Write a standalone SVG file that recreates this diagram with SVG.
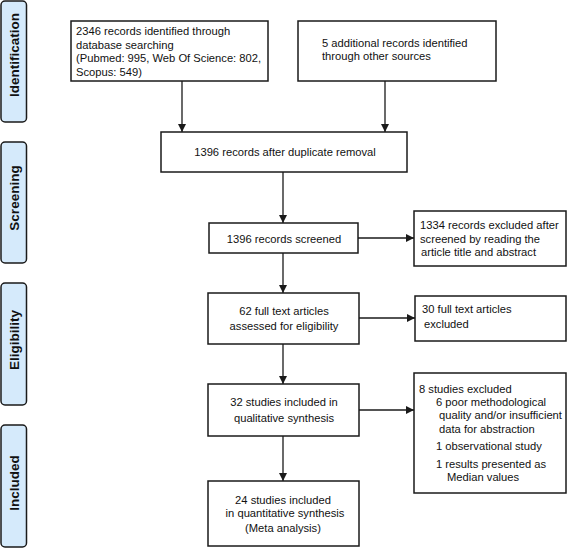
<svg xmlns="http://www.w3.org/2000/svg" width="568" height="548" viewBox="0 0 568 548">
<defs>
<style>
.box{fill:#fff;stroke:#1a1a1a;stroke-width:1.5}
.side{fill:#d5eafb;stroke:#1a1a1a;stroke-width:1.5}
.t{font-family:"Liberation Sans",Arial,sans-serif;font-size:11.2px;fill:#111}
.c{text-anchor:middle}
.s{font-family:"Liberation Sans",Arial,sans-serif;font-size:13.5px;font-weight:bold;fill:#111;text-anchor:middle}
.ln{stroke:#1a1a1a;stroke-width:1.3;fill:none;marker-end:url(#ah)}
</style>
<marker id="ah" viewBox="0 0 10 10" refX="10" refY="5" markerWidth="8" markerHeight="8" markerUnits="userSpaceOnUse" orient="auto">
<path d="M0,0L10,5L0,10z" fill="#1a1a1a"/>
</marker>
</defs>
<rect width="568" height="548" fill="#fff"/>
<g id="phase-identification">
<rect class="side" x="1" y="1" width="25.5" height="121" rx="4"/>
<text class="s" transform="translate(19,55) rotate(-90)">Identification</text>
</g>
<g id="phase-screening">
<rect class="side" x="1" y="142" width="25.5" height="121" rx="4"/>
<text class="s" transform="translate(19,198) rotate(-90)">Screening</text>
</g>
<g id="phase-eligibility">
<rect class="side" x="1" y="283" width="25.5" height="122" rx="4"/>
<text class="s" transform="translate(19,340) rotate(-90)">Eligibility</text>
</g>
<g id="phase-included">
<rect class="side" x="1" y="425" width="25.5" height="122" rx="4"/>
<text class="s" transform="translate(19,483) rotate(-90)">Included</text>
</g>
<g id="connectors">
<line class="ln" x1="182" y1="81" x2="182" y2="132"/>
<line class="ln" x1="385" y1="81" x2="385" y2="132"/>
<line class="ln" x1="283" y1="172" x2="283" y2="223"/>
<line class="ln" x1="358" y1="238" x2="414" y2="238"/>
<line class="ln" x1="283" y1="253" x2="283" y2="293"/>
<line class="ln" x1="359" y1="318" x2="415" y2="318"/>
<line class="ln" x1="283" y1="344" x2="283" y2="384"/>
<line class="ln" x1="359" y1="410" x2="414" y2="410"/>
<line class="ln" x1="283" y1="436" x2="283" y2="481"/>
</g>
<g id="db-records">
<rect class="box" x="71" y="21" width="197" height="60"/>
<text class="t" x="76" y="35">2346 records identified through</text>
<text class="t" x="76" y="48.5">database searching</text>
<text class="t" x="76" y="62">(Pubmed: 995, Web Of Science: 802,</text>
<text class="t" x="76" y="75.5">Scopus: 549)</text>
</g>
<g id="other-records">
<rect class="box" x="298" y="21" width="198" height="60"/>
<text class="t" x="322" y="46.5">5 additional records identified</text>
<text class="t" x="322" y="60">through other sources</text>
</g>
<g id="dedup">
<rect class="box" x="161" y="132" width="246" height="40"/>
<text class="t c" x="285" y="156">1396 records after duplicate removal</text>
</g>
<g id="screened">
<rect class="box" x="209" y="223" width="149" height="30"/>
<text class="t c" x="284" y="242.5">1396 records screened</text>
</g>
<g id="excluded-screen">
<rect class="box" x="414" y="211" width="152" height="55"/>
<text class="t" x="420" y="229">1334 records excluded after</text>
<text class="t" x="420" y="243">screened by reading the</text>
<text class="t" x="421" y="256">article title and abstract</text>
</g>
<g id="fulltext">
<rect class="box" x="208" y="293" width="151" height="51"/>
<text class="t c" x="284" y="315">62 full text articles</text>
<text class="t c" x="284" y="330">assessed for eligibility</text>
</g>
<g id="excluded-fulltext">
<rect class="box" x="415" y="296" width="151" height="45"/>
<text class="t" x="422" y="313">30 full text articles</text>
<text class="t" x="424" y="328">excluded</text>
</g>
<g id="qualitative">
<rect class="box" x="208" y="384" width="151" height="52"/>
<text class="t c" x="284" y="406">32 studies included in</text>
<text class="t c" x="284" y="422">qualitative synthesis</text>
</g>
<g id="excluded-studies">
<rect class="box" x="414" y="373" width="152" height="120"/>
<text class="t" x="419" y="392.5">8 studies excluded</text>
<text class="t" x="436" y="406">6 poor methodological</text>
<text class="t" x="439" y="419">quality and/or insufficient</text>
<text class="t" x="439" y="432.5">data for abstraction</text>
<text class="t" x="436" y="450">1 observational study</text>
<text class="t" x="436" y="468">1 results presented as</text>
<text class="t" x="447" y="481">Median values</text>
</g>
<g id="quantitative">
<rect class="box" x="208" y="481" width="151" height="65"/>
<text class="t c" x="283" y="504">24 studies included</text>
<text class="t c" x="285" y="517">in quantitative synthesis</text>
<text class="t c" x="283" y="532">(Meta analysis)</text>
</g>
</svg>
